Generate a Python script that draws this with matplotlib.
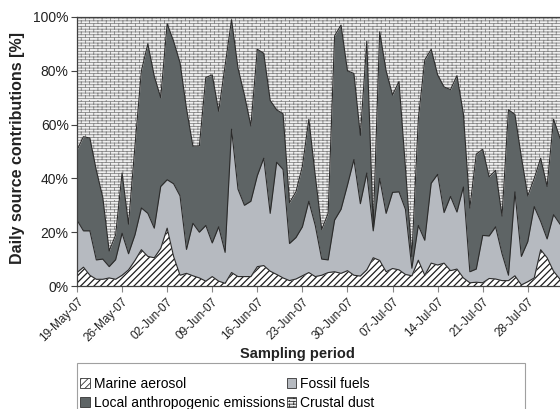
import numpy as np
import pandas as pd
import matplotlib
matplotlib.use("Agg")
import matplotlib.pyplot as plt
import matplotlib.dates as mdates
import matplotlib.hatch as mhatch
from matplotlib.path import Path
from matplotlib.patches import Patch, Rectangle

plt.rcParams['font.family'] = ['Liberation Sans', 'DejaVu Sans']
plt.rcParams['hatch.linewidth'] = 0.6


class BrickHatch(mhatch.HatchPatternBase):
    """Brick pattern: horizontal mortar rows with staggered vertical joints."""
    def __init__(self, hatch, density):
        self.nrows = int(hatch.count('-') * density)
        self.ncols = 12
        self.num_vertices = (self.nrows + self.nrows * self.ncols) * 2

    def set_vertices_and_codes(self, vertices, codes):
        h = 1.0 / self.nrows
        w = 1.0 / self.ncols
        k = 0
        for r in range(self.nrows):
            y = r * h + h / 2
            vertices[k] = (0.0, y)
            vertices[k + 1] = (1.0, y)
            codes[k] = Path.MOVETO
            codes[k + 1] = Path.LINETO
            k += 2
            off = (w / 2) if r % 2 else 0.0
            for c in range(self.ncols):
                x = c * w + off + w / 4
                vertices[k] = (x, y)
                vertices[k + 1] = (x, y + h)
                codes[k] = Path.MOVETO
                codes[k + 1] = Path.LINETO
                k += 2


mhatch._hatch_types = [BrickHatch if t is mhatch.HorizontalHatch else t
                       for t in mhatch._hatch_types]

start_date = "2007-05-19"
n_days = 76

marine = [5, 7, 4, 2.5, 2.5, 3, 2.5, 4, 6, 9.5,
          13.5, 11, 10.5, 14, 21.5, 11, 4, 4.7, 3.8, 3,
          1.8, 3.5, 1.8, 1, 5, 3.5, 3.5, 3.5, 7.2, 7.6,
          5.5, 4.3, 3, 2, 2.6, 3.8, 5, 3.5, 4, 5,
          5.3, 4.7, 5.7, 4, 3.7, 6, 10.5, 9.5, 5.3, 6.5,
          6, 4.3, 3.8, 9.6, 4, 8.5, 7.8, 8.5, 5.7, 6.3,
          3, 1.2, 1.4, 1.2, 2.8, 2.6, 2, 2, 3.8, 0.4,
          1.6, 3, 13.5, 10.5, 5.5, 2.5]
fossil = [19.5, 13.5, 16.5, 7.2, 7.5, 4.2, 7.3, 15.6, 6, 9.5,
          15.5, 16, 11, 23, 18, 27, 29.5, 8.9, 19.5, 17,
          20.7, 12.5, 20.2, 11.5, 53.3, 32.5, 26.5, 28, 33.8, 39.9,
          21.5, 41.7, 40.3, 13.8, 15.4, 18.2, 26.5, 19, 6, 4.7,
          19.2, 23.8, 31.8, 43, 26.9, 36, 10, 30.5, 21.7, 28.3,
          29, 24.2, 2.8, 12.9, 13, 29.7, 33.7, 18.8, 27.6, 21.2,
          33.8, 4.1, 4.9, 17.6, 15.8, 19.4, 10, 2, 31.2, 10.6,
          14.9, 26.5, 10.5, 7, 21, 20.5]
local = [26, 35, 34.5, 33.3, 23, 5.8, 9.2, 22.4, 11, 33,
         51, 63, 56.5, 33, 58, 53, 49.5, 52.4, 28.7, 32,
         55, 62.5, 43, 69.5, 40.7, 45, 41, 28, 47, 39,
         42, 19.5, 20.7, 15.2, 17, 22.5, 30.5, 18.5, 11, 17.3,
         68.5, 68.5, 42.5, 32, 25.4, 49, 1.5, 54.5, 53, 36.2,
         41, 15.5, 4.4, 39.5, 67, 49.8, 37, 46.7, 39.7, 50.7,
         27.2, 23.7, 42.7, 32, 22, 21, 14, 61.5, 28.8, 37,
         17, 10.5, 23.5, 19.5, 35.5, 32]
crustal = [49.5, 44.5, 45, 57, 67, 87, 81, 58, 77, 48,
           20, 10, 22, 30, 2.5, 9, 17, 34, 48, 48,
           22.5, 21.5, 35, 18, 1, 19, 29, 40.5, 12, 13.5,
           31, 34.5, 36, 69, 65, 55.5, 38, 59, 79, 73,
           7, 3, 20, 21, 44, 9, 78, 5.5, 20, 29,
           24, 56, 89, 38, 16, 12, 21.5, 26, 27, 21.8,
           36, 71, 51, 49.2, 59.4, 57, 74, 34.5, 36.2, 52,
           66.5, 60, 52.5, 63, 38, 45]

series_names = ["Marine aerosol", "Fossil fuels",
                "Local anthropogenic emissions", "Crustal dust"]
y_ticks = [0, 20, 40, 60, 80, 100]

dates = pd.date_range(start_date, periods=n_days, freq="D")

styles = [
    dict(facecolor="white", edgecolor="#1e1e1e", hatch="/////", hlw=0.9),
    dict(facecolor="#b6bac0", edgecolor="#b6bac0", hatch=None, hlw=None),
    dict(facecolor="#5e6465", edgecolor="#5e6465", hatch=None, hlw=None),
    dict(facecolor="#efefef", edgecolor="#858585", hatch="------", hlw=0.6),
]

fig = plt.figure(figsize=(5.6, 4.09), dpi=100)
ax = fig.add_axes([77 / 560, (409 - 286) / 409, (560 - 77) / 560, (286 - 17) / 409])

data = np.array([marine, fossil, local, crustal], dtype=float)
cum = np.cumsum(data, axis=0)
base = np.zeros(n_days)
for i in range(4):
    top = cum[i]
    st = styles[i]
    with plt.rc_context({'hatch.linewidth': st["hlw"] or 0.6}):
        coll = ax.fill_between(dates, base, top, facecolor=st["facecolor"],
                               edgecolor=st["edgecolor"], hatch=st["hatch"],
                               linewidth=0, zorder=1)
        if st["hlw"] and hasattr(coll, "set_hatch_linewidth"):
            coll.set_hatch_linewidth(st["hlw"])
    base = top
for i in range(3):
    ax.plot(dates, cum[i], color="#2b2b2b", lw=0.8, zorder=2)

ax.set_xlim(dates[0], dates[-1])
ax.set_ylim(0, 100)
ax.set_yticks(y_ticks)
ax.set_yticklabels([f"{v}%" for v in y_ticks], fontsize=10, color="#222222")
ax.set_xticks(dates[::7])
ax.xaxis.set_major_formatter(mdates.DateFormatter("%d-%b-%y"))
for lab in ax.get_xticklabels():
    lab.set_rotation(45)
    lab.set_ha("right")
    lab.set_rotation_mode("anchor")
    lab.set_fontsize(8.5)
    lab.set_color("#222222")
ax.tick_params(axis="x", direction="out", length=4, color="#888888", pad=3)
ax.tick_params(axis="y", direction="out", length=4, color="#444444", pad=2)
for s in ["left", "bottom", "top"]:
    ax.spines[s].set_color("#404040")
    ax.spines[s].set_linewidth(0.9)
ax.spines["right"].set_visible(False)

fig.text(18 / 560, 1 - 148 / 409, "Daily source contributions [%]", rotation=90,
         ha="center", va="center", fontsize=11.5, fontweight="bold", color="#222222")
fig.text(297 / 560, 1 - 354 / 409, "Sampling period", ha="center", va="center",
         fontsize=10.5, fontweight="bold", color="#222222")

# legend frame (extends past the bottom edge like the reference)
fig.patches.append(Rectangle((77 / 560, -0.05), (525 - 77) / 560, 0.05 + (409 - 363) / 409,
                             transform=fig.transFigure, facecolor="white",
                             edgecolor="#a0a0a0", linewidth=0.8, zorder=0))

handles = []
for st in styles:
    p = Patch(facecolor=st["facecolor"], edgecolor="#333333",
              hatch=st["hatch"], linewidth=0.6)
    handles.append(p)
order = [0, 2, 1, 3]
leg = fig.legend([handles[i] for i in order], [series_names[i] for i in order],
                 loc="upper left", bbox_to_anchor=(80 / 560, 1 - 377 / 409),
                 ncol=2, fontsize=10, frameon=False,
                 handlelength=0.7, handleheight=0.7, handletextpad=0.3,
                 columnspacing=0.1, labelspacing=0.35, borderpad=0.0,
                 borderaxespad=0)

fig.savefig("out.png", dpi=100)
